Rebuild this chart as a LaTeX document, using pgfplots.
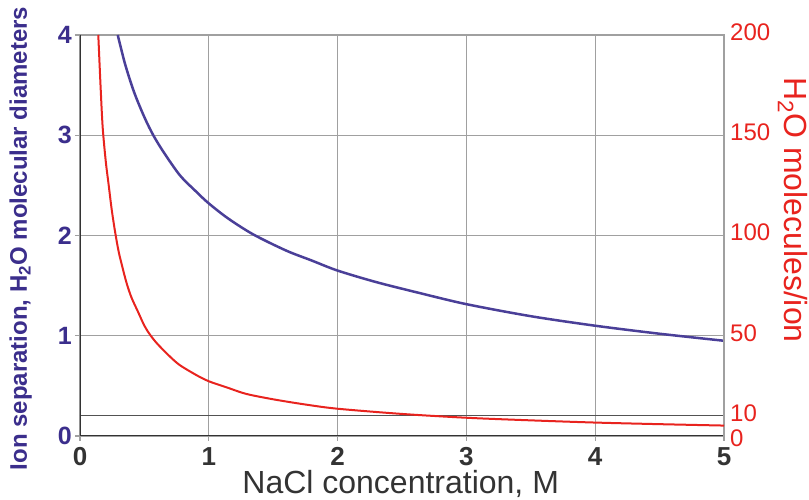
\documentclass[border=0pt]{standalone}
\usepackage{fontspec}
\setmainfont{Liberation Sans}
\usepackage{pgfplots}
\pgfplotsset{compat=1.18}
\definecolor{bluec}{HTML}{4A3F98}
\definecolor{bluet}{HTML}{3B2E8C}
\definecolor{redc}{HTML}{E8231E}
\definecolor{gridc}{HTML}{A0A0A0}
\definecolor{darkax}{HTML}{333333}
\begin{document}
\begin{tikzpicture}
\useasboundingbox (0pt,0pt) rectangle (809pt,500pt);
\begin{axis}[
  at={(80pt,64pt)}, anchor=south west,
  width=644pt, height=401pt, scale only axis,
  xmin=0, xmax=5, ymin=0, ymax=4,
  xtick={0,1,2,3,4,5}, ytick={0,1,2,3,4},
  /pgf/number format/assume math mode=true,
  grid=major,
  grid style={gridc, line width=1.3pt},
  extra y ticks={0.2}, extra y tick labels={},
  extra y tick style={grid style={darkax!85, line width=1pt}, major tick length=0pt},
  axis line style={gridc, line width=1.3pt},
  tick style={gridc, line width=1.2pt},
  tick align=outside, major tick length=5pt,
  xtick pos=left, ytick pos=left,
  xticklabel style={font=\fontsize{26}{30}\selectfont\bfseries, text=darkax, inner sep=0pt, anchor=north, yshift=-6pt},
  yticklabel style={font=\fontsize{25}{30}\selectfont\bfseries, text=bluet, inner sep=0pt, anchor=east, xshift=-3pt},
  every axis x label/.style={at={(axis description cs:0.498,-0.144)}, anchor=base},
  every axis y label/.style={at={(axis description cs:-0.0823,0.4925)}, rotate=90, anchor=base},
  xlabel={\fontsize{32}{36}\selectfont\color{darkax}NaCl concentration, M},
  ylabel={\fontsize{24}{28}\selectfont\bfseries\color{bluet}Ion separation, H\textsubscript{2}O molecular diameters},
]
\addplot[bluec, line width=2.5pt, smooth, tension=0.5] coordinates {
(0.293,4.0) (0.35,3.71) (0.42,3.43) (0.5,3.18) (0.569,3.0) (0.65,2.83) (0.776,2.60) (0.9,2.44) (1.0,2.32) (1.15,2.17) (1.346,2.01) (1.6,1.85) (1.8,1.75) (2.0,1.65) (2.3,1.535) (2.64,1.425) (3.0,1.315) (3.5,1.195) (4.0,1.10) (4.5,1.02) (5.0,0.95)
};
\draw[darkax, line width=1.6pt] (rel axis cs:0,1) -- (rel axis cs:0,0) -- (rel axis cs:1,0);
\end{axis}
\begin{axis}[
  at={(80pt,64pt)}, anchor=south west,
  width=644pt, height=401pt, scale only axis,
  xmin=0, xmax=5, ymin=0, ymax=200,
  axis x line=none, axis y line*=right,
  /pgf/number format/assume math mode=true,
  ytick={10,50,100,150,200},
  extra y ticks={0},
  extra y tick style={yticklabel style={yshift=-5pt}},
  y axis line style={gridc, line width=1.3pt, -},
  ytick style={draw=none},
  yticklabel style={font=\fontsize{24}{28}\selectfont, text=redc, inner sep=0pt, anchor=west, xshift=6pt, yshift=3pt},
  every axis y label/.style={at={(axis description cs:1.0947,0.5636)}, rotate=-90, anchor=base},
  ylabel={\fontsize{32}{36}\selectfont\color{redc}H\textsubscript{2}O molecules/ion},
]
\addplot[redc, line width=2pt, smooth, tension=0.5] coordinates {
(0.142,200) (0.16,174) (0.176,154) (0.2,137) (0.223,125) (0.246,113) (0.272,102) (0.3,92) (0.33,84) (0.363,76) (0.4,69) (0.45,62) (0.5,55) (0.544,50.5) (0.6,46) (0.7,39.5) (0.776,35.3) (0.9,30.5) (1.0,27.3) (1.15,24) (1.29,21) (1.5,18.3) (1.75,15.7) (2.0,13.6) (2.5,11) (3.0,9.1) (3.5,7.8) (4.0,6.7) (4.5,5.9) (5.0,5.2)
};
\end{axis}
\end{tikzpicture}
\end{document}
